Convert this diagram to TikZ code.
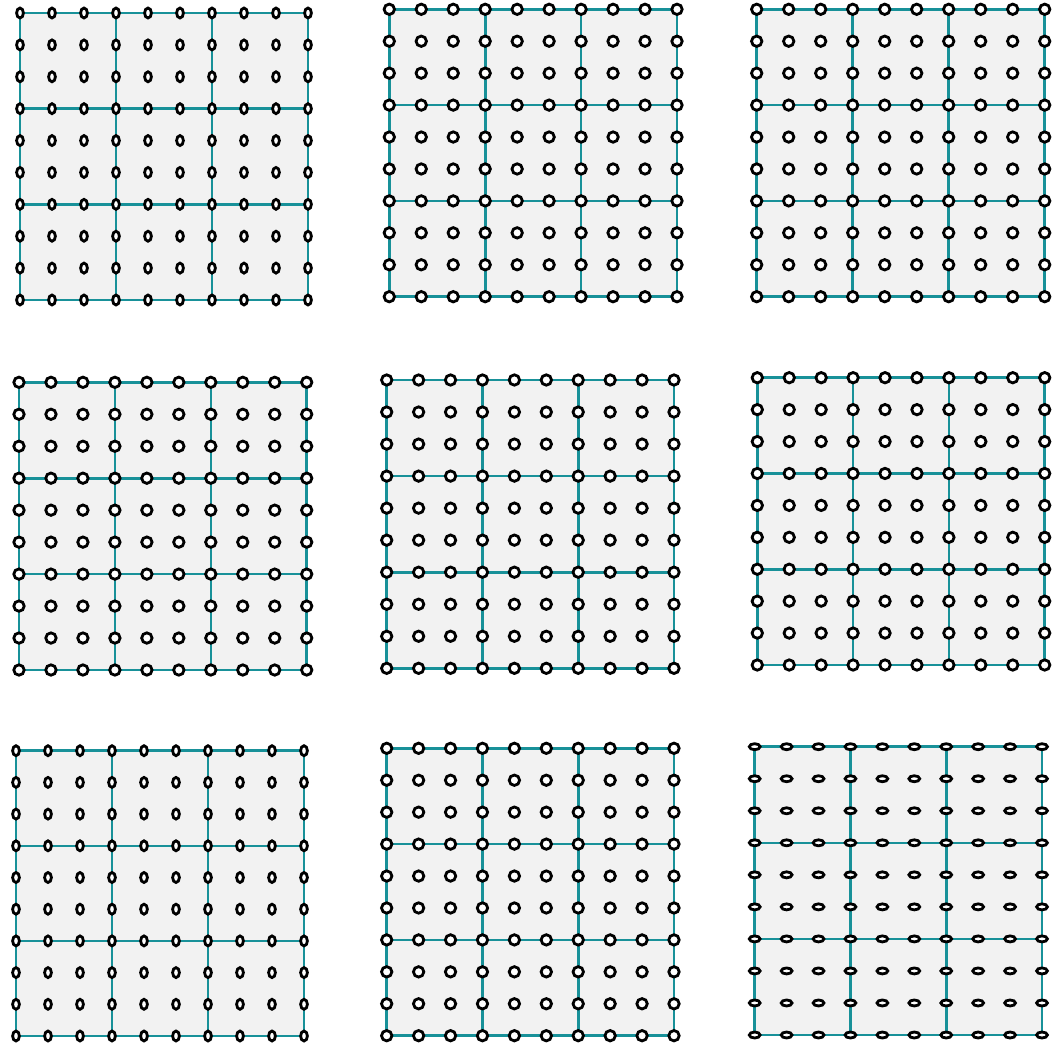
\documentclass[tikz,border=0pt]{standalone}
\begin{document}
\begin{tikzpicture}[x=1pt,y=-1pt,
  gridline/.style={line width=2.6pt, draw={rgb,255:red,24;green,145;blue,153}},
  cellfill/.style={fill={rgb,255:red,242;green,242;blue,242}},
  pin/.style={draw=black, fill=white, line width=2.8pt}]
\useasboundingbox (0,0) rectangle (1061,1047);
\newcommand{\mypanel}[6]{%
  \pgfmathsetmacro{\pa}{#1}\pgfmathsetmacro{\pb}{#2}%
  \pgfmathsetmacro{\pc}{#3}\pgfmathsetmacro{\pd}{#4}%
  \fill[cellfill] (\pa,\pb) rectangle (\pc,\pd);
  \foreach \k in {0,1,2,3}{
    \draw[gridline] ({\pa+\k*(\pc-\pa)/3},\pb) -- ({\pa+\k*(\pc-\pa)/3},\pd);
    \draw[gridline] (\pa,{\pb+\k*(\pd-\pb)/3}) -- (\pc,{\pb+\k*(\pd-\pb)/3});
  }
  \foreach \i in {0,...,9}{
    \foreach \j in {0,...,9}{
      \draw[pin] ({\pa+\i*(\pc-\pa)/9},{\pb+\j*(\pd-\pb)/9}) ellipse [x radius=#5, y radius=#6];
    }
  }
}
\mypanel{20}{13}{308}{300}{3.4}{5.0}
\mypanel{389.3}{9.3}{677}{296.7}{5.2}{5.2}
\mypanel{756.7}{9.3}{1044.7}{296.7}{5.2}{5.2}
\mypanel{19}{382.3}{306.7}{670}{5.2}{5.2}
\mypanel{386.7}{380}{674}{668.3}{5.2}{5.2}
\mypanel{757.3}{377.7}{1044.7}{665}{5.2}{5.2}
\mypanel{16}{750.7}{304}{1036}{3.4}{5.0}
\mypanel{386.7}{748.3}{674}{1035.7}{5.2}{5.2}
\mypanel{754.7}{746.7}{1042}{1035}{5.4}{3.0}
\end{tikzpicture}
\end{document}
